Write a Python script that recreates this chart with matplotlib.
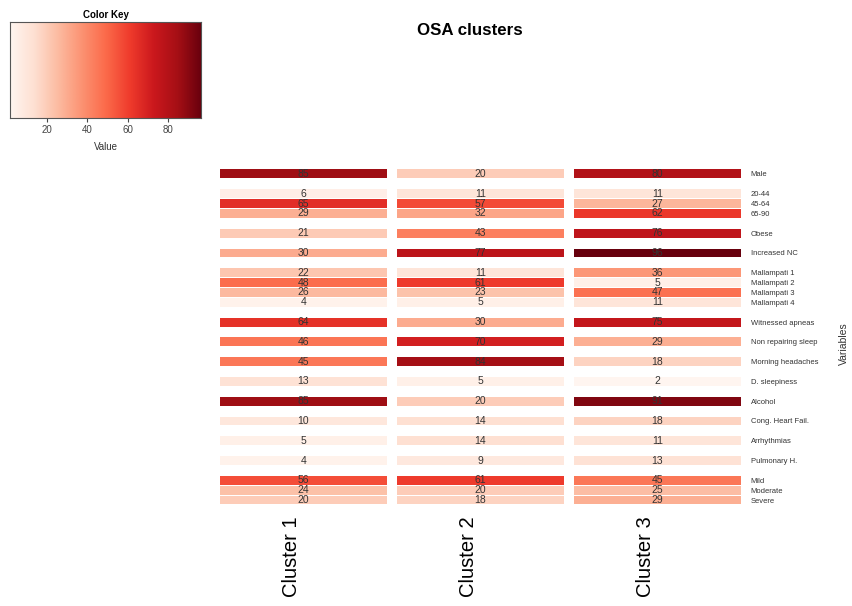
import numpy as np
import matplotlib
matplotlib.use("Agg")
from matplotlib import pyplot as plt
from matplotlib.transforms import ScaledTranslation

plt.rcParams['font.family'] = ['Liberation Sans', 'DejaVu Sans']

# row groups (a blank row is left between groups)
groups = [
    ["Male"],
    ["20-44", "45-64", "65-90"],
    ["Obese"],
    ["Increased NC"],
    ["Mallampati 1", "Mallampati 2", "Mallampati 3", "Mallampati 4"],
    ["Witnessed apneas"],
    ["Non repairing sleep"],
    ["Morning headaches"],
    ["D. sleepiness"],
    ["Alcohol"],
    ["Cong. Heart Fail."],
    ["Arrhythmias"],
    ["Pulmonary H."],
    ["Mild", "Moderate", "Severe"],
]
clusters = ["Cluster 1", "Cluster 2", "Cluster 3"]
cluster1 = [85, 6, 65, 29, 21, 30, 22, 48, 26, 4, 64, 46, 45, 13, 85, 10, 5, 4, 56, 24, 20]
cluster2 = [20, 11, 57, 32, 43, 77, 11, 61, 23, 5, 30, 70, 84, 5, 20, 14, 14, 9, 61, 20, 18]
cluster3 = [80, 11, 27, 62, 76, 96, 36, 5, 47, 11, 75, 29, 18, 2, 91, 18, 11, 13, 45, 25, 29]
key_ticks = [20, 40, 60, 80]

values = np.array([cluster1, cluster2, cluster3])
labels = [lab for g in groups for lab in g]

# y positions with one empty row between groups
ypos = []
y = 0
for g in groups:
    for _ in g:
        ypos.append(y)
        y += 1
    y += 1
ypos = np.array(ypos)
nrows = ypos.max() + 1

cmap = plt.get_cmap("Reds")
vmin, vmax = values.min(), values.max()
norm = matplotlib.colors.Normalize(vmin, vmax)

fig = plt.figure(figsize=(8.52, 6.06), dpi=100)

ax = fig.add_axes([0.2582, 0.1667, 0.6115, 0.5545])
step = 1.06
for j, col in enumerate(values):
    xc = j * step
    ax.barh(ypos, 1.0, left=xc - 0.5, height=0.9, color=cmap(norm(col)),
            edgecolor='none')
    for yy, v in zip(ypos, col):
        ax.text(xc, yy, str(v), ha='center', va='center', fontsize=7.5, color='#333333')
ax.set_ylim(nrows - 0.5, -0.5)
ax.set_xlim(-0.5, (len(clusters) - 1) * step + 0.5)
for s in ax.spines.values():
    s.set_visible(False)
ax.yaxis.tick_right()
ax.set_yticks(ypos)
ax.set_yticklabels(labels, fontsize=5.5, color='#333333')
ax.tick_params(axis='y', length=0, pad=7)
ax.set_xticks([j * step for j in range(len(clusters))])
ax.set_xticklabels(clusters, rotation=90, fontsize=14.5, va='top')
ax.tick_params(axis='x', length=0, pad=8)
shift = ScaledTranslation(-12 / 100, 0, fig.dpi_scale_trans)
for t in ax.get_xticklabels():
    t.set_transform(t.get_transform() + shift)

fig.text(844 / 852, 1 - 344 / 606, "Variables", rotation=90, ha='center', va='center',
         fontsize=7.5, color='#333333')
fig.text(0.552, 0.949, "OSA clusters", ha='center', va='center', fontsize=12.2, fontweight='bold')

# color key
kax = fig.add_axes([0.0117, 0.8053, 0.2242, 0.1584])
grad = np.linspace(vmin, vmax, 256).reshape(1, -1)
kax.imshow(grad, cmap=cmap, norm=norm, aspect='auto', extent=(vmin, vmax, 0, 1))
kax.set_yticks([])
kax.set_xticks(key_ticks)
kax.tick_params(axis='x', labelsize=7, length=3, pad=2, colors='#444444')
kax.set_xlabel("Value", fontsize=7, labelpad=5, color='#333333')
kax.set_title("Color Key", fontsize=7, fontweight='bold', pad=3)
for s in kax.spines.values():
    s.set_color('#555555')

fig.savefig("out.png", dpi=100)
